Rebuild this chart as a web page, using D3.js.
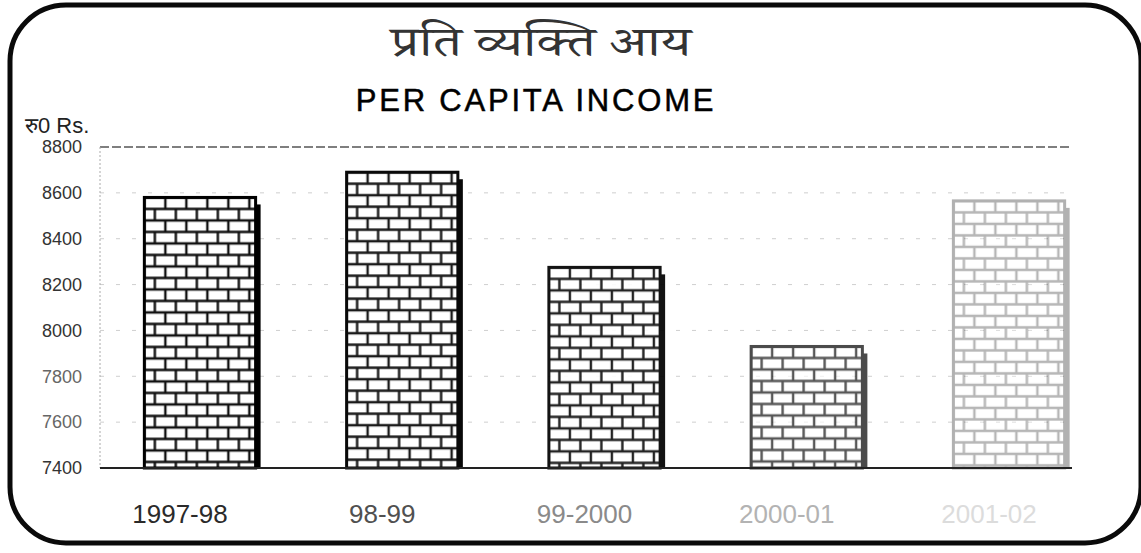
<!DOCTYPE html>
<html>
<head>
<meta charset="utf-8">
<script src="https://cdn.jsdelivr.net/npm/d3@7"></script>
<style>
    body { margin: 0; background: #fff; }
    svg { display: block; }
</style>
</head>
<body>
<div id="bar-chart"></div>
<script>
// values
const years = ["1997-98", "98-99", "99-2000", "2000-01", "2001-02"];
const income = [8580, 8690, 8275, 7930, 8565];
const yTicks = [7400, 7600, 7800, 8000, 8200, 8400, 8600, 8800];

const width = 1141, height = 553;
const plotLeft = 100, plotRight = 1072;

const svg = d3.select("#bar-chart")
    .append("svg")
    .attr("width", width)
    .attr("height", height);

const x = d3.scaleBand()
    .domain(years)
    .range([112, 1097])
    .paddingInner(0.45)
    .paddingOuter(0.16);

const y = d3.scaleLinear()
    .domain([7400, 8800])
    .range([468, 147]);

// the scan fades to the right
const fade = d3.scaleLinear().domain([0, 2, 3, 4]).range([1, 0.92, 0.7, 0.3]);
const labelColor = d3.scaleLinear().domain([0, 1, 2, 4]).range(["#2a2a2a", "#505050", "#8a8a8a", "#dcdcdc"]);

// rounded frame
svg.append("rect")
    .attr("x", 10)
    .attr("y", 5)
    .attr("width", 1131)
    .attr("height", 538)
    .attr("rx", 56)
    .attr("fill", "none")
    .attr("stroke", "#0a0a0a")
    .attr("stroke-width", 5);

// titles
svg.append("text")
    .attr("transform", "translate(541,56) scale(1.3,1)")
    .attr("text-anchor", "middle")
    .attr("font-family", "'Noto Serif Devanagari', 'Noto Sans Devanagari', 'Lohit Devanagari', serif")
    .attr("font-size", 42)
    .attr("fill", "#333")
    .text("प्रति व्यक्ति आय");

svg.append("text")
    .attr("x", 536)
    .attr("y", 111)
    .attr("text-anchor", "middle")
    .attr("font-family", "'Liberation Sans', Arial, sans-serif")
    .attr("font-size", 31)
    .attr("letter-spacing", 2.8)
    .attr("fill", "#000")
    .attr("stroke", "#000")
    .attr("stroke-width", 0.5)
    .text("PER CAPITA INCOME");

svg.append("text")
    .attr("x", 25)
    .attr("y", 133)
    .attr("font-family", "'Liberation Sans', Arial, sans-serif")
    .attr("font-size", 22)
    .attr("fill", "#222")
    .text("रु0 Rs.");

// gridlines
svg.append("g")
    .selectAll("line")
    .data(yTicks.slice(1))
    .join("line")
    .attr("x1", plotLeft)
    .attr("x2", plotRight)
    .attr("y1", d => y(d))
    .attr("y2", d => y(d))
    .attr("stroke", d => d === 8800 ? "#555" : "#cfcfcf")
    .attr("stroke-width", d => d === 8800 ? 1.5 : 1)
    .attr("stroke-dasharray", d => d === 8800 ? "9,3" : "4,12");

svg.append("line")
    .attr("x1", plotLeft)
    .attr("x2", plotLeft)
    .attr("y1", y(8800))
    .attr("y2", y(7400))
    .attr("stroke", "#aaa")
    .attr("stroke-dasharray", "2,2");

// brick patterns, one per bar so rows line up with the bar top
const defs = svg.append("defs");
const brickW = 21, brickH = 11.5;

const pats = defs.selectAll("pattern")
    .data(years)
    .join("pattern")
    .attr("id", (d, i) => "brick" + i)
    .attr("patternUnits", "userSpaceOnUse")
    .attr("width", brickW)
    .attr("height", brickH * 2)
    .attr("patternTransform", (d, i) => `translate(${x(d)},${y(income[i])})`);

pats.append("rect")
    .attr("width", brickW)
    .attr("height", brickH * 2)
    .attr("fill", "#fff");

pats.append("path")
    .attr("d", `M0,0H${brickW}M0,${brickH}H${brickW}M0,${brickH * 2}H${brickW}` +
        `M0,0V${brickH}M${brickW},0V${brickH}M${brickW / 2},${brickH}V${brickH * 2}`)
    .attr("stroke", "#111")
    .attr("stroke-width", 2.4)
    .attr("fill", "none");

// bars
const bars = svg.append("g")
    .selectAll("g")
    .data(years)
    .join("g")
    .attr("opacity", (d, i) => fade(i));

bars.append("rect")
    .attr("x", d => x(d) + x.bandwidth())
    .attr("y", (d, i) => y(income[i]) + 7)
    .attr("width", 5)
    .attr("height", (d, i) => y(7400) - y(income[i]) - 7)
    .attr("fill", "#000");

bars.append("rect")
    .attr("x", d => x(d))
    .attr("y", (d, i) => y(income[i]))
    .attr("width", x.bandwidth())
    .attr("height", (d, i) => y(7400) - y(income[i]))
    .attr("fill", (d, i) => `url(#brick${i})`)
    .attr("stroke", "#000")
    .attr("stroke-width", 3);

// baseline
svg.append("line")
    .attr("x1", plotLeft)
    .attr("x2", plotRight)
    .attr("y1", y(7400))
    .attr("y2", y(7400))
    .attr("stroke", "#222")
    .attr("stroke-width", 2);

// y axis labels
const yAxis = svg.append("g")
    .attr("transform", `translate(${plotLeft},0)`)
    .call(d3.axisLeft(y).tickValues(yTicks).tickSize(0).tickPadding(18).tickFormat(d3.format("d")));
yAxis.select(".domain").remove();
yAxis.selectAll("text")
    .attr("font-family", "'Liberation Sans', Arial, sans-serif")
    .attr("font-size", 18)
    .attr("fill", d => d === 7600 || d === 7800 ? "#666" : "#333");

// x axis labels
const xAxis = svg.append("g")
    .attr("transform", `translate(-20,${y(7400)})`)
    .call(d3.axisBottom(x).tickSize(0).tickPadding(37));
xAxis.select(".domain").remove();
xAxis.selectAll("text")
    .attr("font-family", "'Liberation Sans', Arial, sans-serif")
    .attr("font-size", 26)
    .attr("fill", (d, i) => labelColor(i));
</script>
</body>
</html>
